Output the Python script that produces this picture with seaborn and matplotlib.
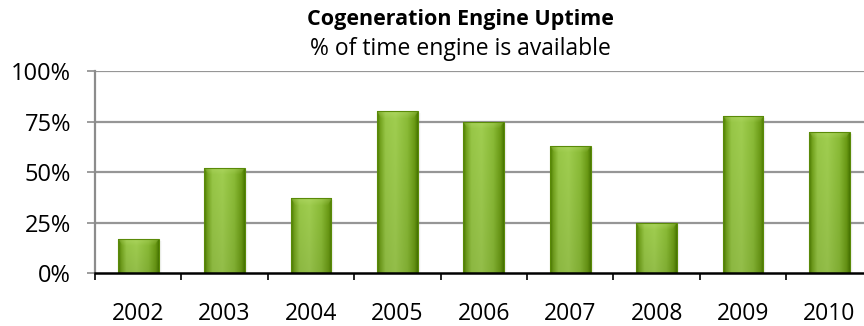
import numpy as np
import pandas as pd
import matplotlib
matplotlib.use("Agg")
import matplotlib.pyplot as plt
from matplotlib.colors import LinearSegmentedColormap, to_rgb
from matplotlib.ticker import FixedLocator
import seaborn as sns

years = ["2002", "2003", "2004", "2005", "2006", "2007", "2008", "2009", "2010"]
uptime = [17, 52, 37, 80, 75, 63, 25, 78, 70]
y_ticks = [0, 25, 50, 75, 100]
y_tick_labels = ["0%", "25%", "50%", "75%", "100%"]

title = "Cogeneration Engine Uptime"
subtitle = "% of time engine is available"

sns.set_theme(style="white")
plt.rcParams["font.family"] = ["Open Sans", "DejaVu Sans"]

W, H, DPI = 864, 326, 100
fig = plt.figure(figsize=(W / DPI, H / DPI), dpi=DPI)
fig.patch.set_facecolor("white")

# plot area in pixel terms (right edge runs slightly past the canvas)
left_px, right_px, top_px, bottom_px = 95, 872.6, 71, 273.3
ax = fig.add_axes([left_px / W, (H - bottom_px) / H,
                   (right_px - left_px) / W, (bottom_px - top_px) / H])

df = pd.DataFrame({"year": years, "uptime": uptime})
sns.barplot(data=df, x="year", y="uptime", color="#8cbf3a", width=0.47,
            ax=ax, zorder=3, errorbar=None)

ax.set_xlim(-0.5, len(years) - 0.5)
ax.set_ylim(0, 100)
ax.set_xlabel("")
ax.set_ylabel("")

# gridlines
for v in y_ticks[1:]:
    ax.axhline(v, color="#969696", lw=1.6, zorder=1)

# spines
for s in ["top", "right"]:
    ax.spines[s].set_visible(False)
ax.spines["left"].set_color("#8c8c8c")
ax.spines["left"].set_linewidth(1.6)
ax.spines["left"].set_zorder(2)
ax.spines["bottom"].set_color("black")
ax.spines["bottom"].set_linewidth(1.8)
ax.spines["bottom"].set_zorder(5)

# y ticks
ax.set_yticks(y_ticks)
ax.set_yticklabels(y_tick_labels)
ax.tick_params(axis="y", which="major", length=5.8, width=1.2, color="#8c8c8c",
               pad=11.5, labelsize=17, labelcolor="black", left=True)

# x ticks: labels at centers, tick marks at category boundaries
ax.set_xticks(range(len(years)))
ax.set_xticklabels(years)
ax.xaxis.set_minor_locator(FixedLocator(np.arange(-0.5, len(years), 1.0)))
ax.tick_params(axis="x", which="major", length=0, pad=20.5, labelsize=16.5,
               labelcolor="black")
ax.tick_params(axis="x", which="minor", length=5, width=1.2, color="black",
               bottom=True)

# shaded green fill for each bar
stops = [(0.0, "#4b7a02"), (0.07, "#72a21c"), (0.2, "#98c747"),
         (0.45, "#a0ce50"), (0.75, "#8abb36"), (0.93, "#6a9a14"),
         (1.0, "#4b7a02")]
cmap = LinearSegmentedColormap.from_list("barshade", stops)
ppu = (bottom_px - top_px) / 100.0  # pixels per data unit

for patch in ax.patches:
    x0, y0 = patch.get_x(), patch.get_y()
    w, h = patch.get_width(), patch.get_height()
    nx = 64
    ny = max(int(h * ppu), 2)
    xs = np.linspace(0, 1, nx)
    base = cmap(xs)[:, :3]
    img = np.tile(base[None, :, :], (ny, 1, 1))
    # lighter bevel along the top edge
    bevel = 7
    for r in range(min(bevel, ny)):
        f = 1 - r / bevel
        lo = int(nx * 0.12 * (r / bevel))
        img[r, lo:nx - lo] = img[r, lo:nx - lo] * (1 - 0.35 * f) + np.array(to_rgb("#c2e27a")) * 0.35 * f
    img[0] = np.array(to_rgb("#5d8c0a"))
    # slightly darker toward the base
    shade = np.linspace(1.0, 0.92, ny)[:, None, None]
    img = img * shade
    im = ax.imshow(img, extent=(x0, x0 + w, y0, y0 + h), origin="upper",
                   aspect="auto", interpolation="bilinear", zorder=4)
    im.set_clip_path(patch)
    patch.set_facecolor("none")
    patch.set_edgecolor("#5a8a08")
    patch.set_linewidth(0.8)
    patch.set_zorder(4.5)

# soft shadow to the right of each bar
for patch in list(ax.patches):
    x0, w, h = patch.get_x(), patch.get_width(), patch.get_height()
    for k, a in enumerate([0.10, 0.06, 0.03]):
        ax.add_patch(plt.Rectangle((x0 + w, 0), 0.012 * (k + 1), h - 1,
                                   color="#7a7a7a", alpha=a, lw=0, zorder=3.5))

ax.set_aspect("auto")

cx = 460 / W
fig.text(cx, 1 - 25 / H, title, ha="center", va="baseline",
         fontsize=15.5, fontweight="bold", color="black")
fig.text(cx, 1 - 55 / H, subtitle, ha="center", va="baseline",
         fontsize=16.5, color="black")

fig.savefig("out.png", dpi=DPI, facecolor="white")
